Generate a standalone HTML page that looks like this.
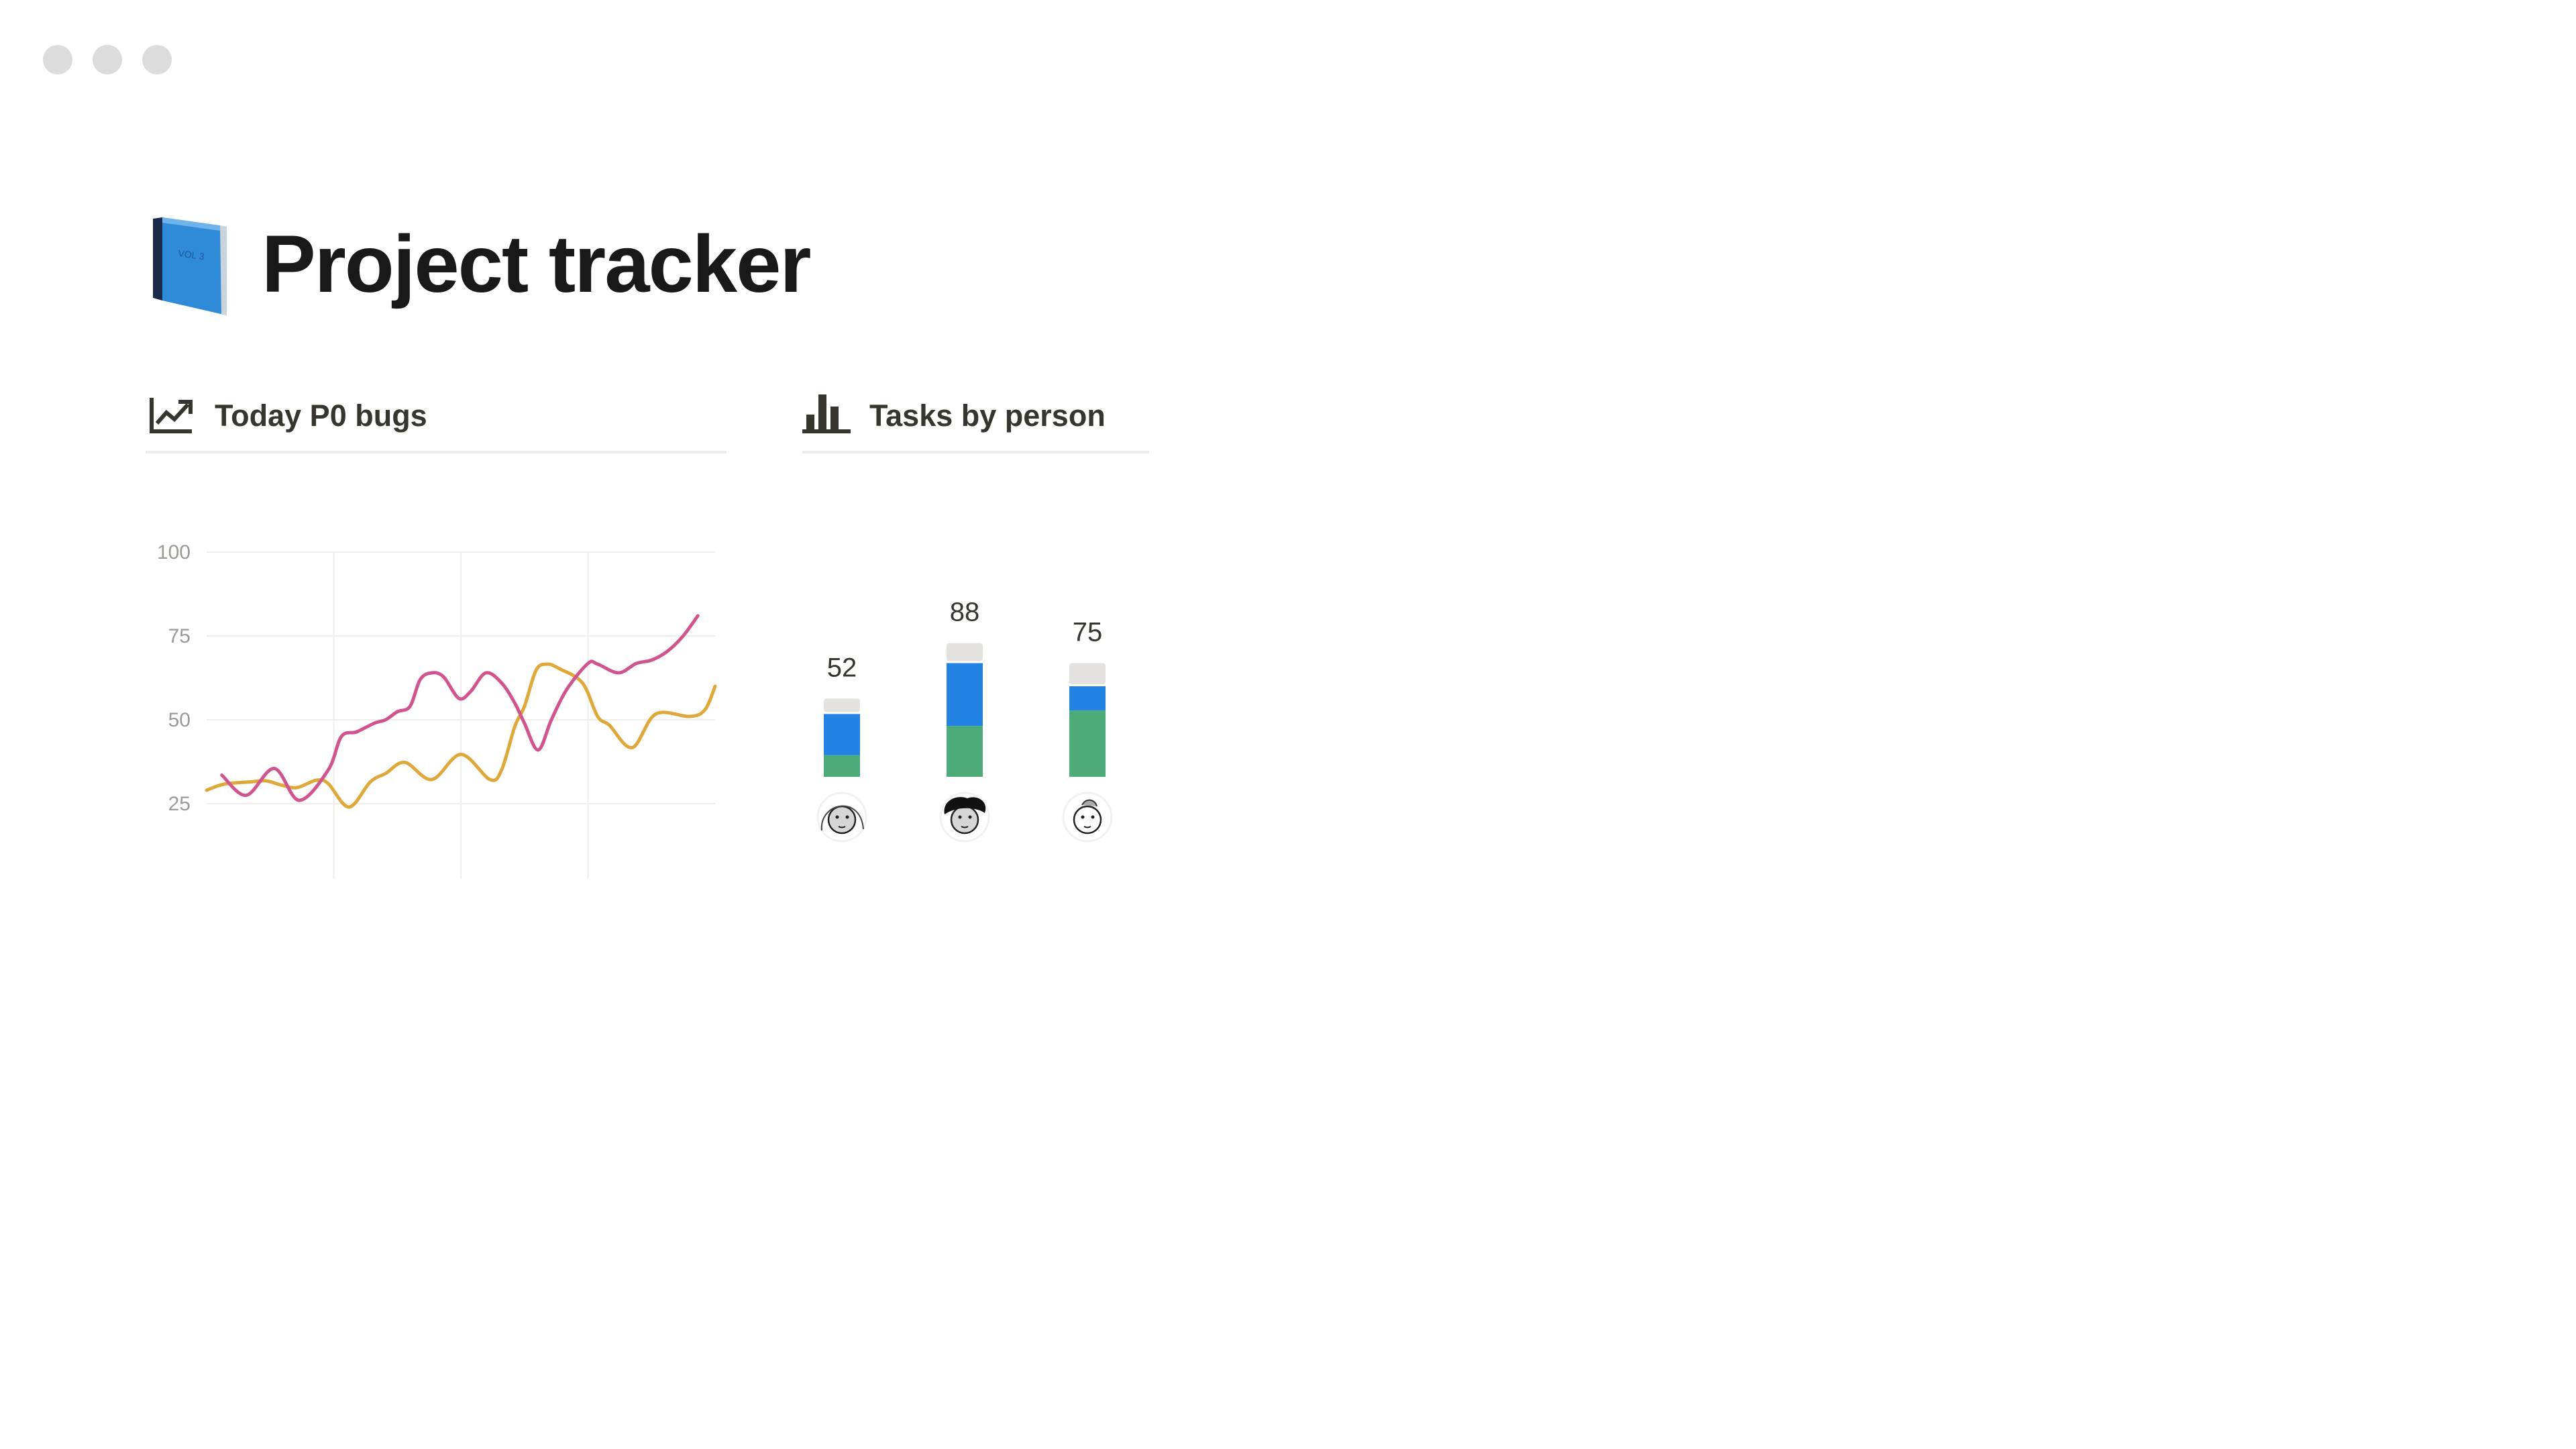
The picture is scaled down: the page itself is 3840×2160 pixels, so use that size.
<!DOCTYPE html>
<html><head><meta charset="utf-8"><style>
html,body{margin:0;padding:0;background:#fff;}
body{width:3840px;height:2160px;position:relative;overflow:hidden;font-family:"Liberation Sans",sans-serif;color:#37352f;}
.dot{position:absolute;top:67px;width:44px;height:44px;border-radius:50%;background:#dcdcdc;}
.abs{position:absolute;}
</style></head><body>
<div class="dot" style="left:64px"></div>
<div class="dot" style="left:138px"></div>
<div class="dot" style="left:212px"></div>

<svg class="abs" style="left:220px;top:320px" width="125" height="152" viewBox="0 0 125 152">
<path d="M8 6 L22 4 L22 128 L8 124 Z" fill="#1a2a4a"/>
<path d="M22 4 L118 18 L118 150 L22 128 Z" fill="#2f8ad8"/>
<path d="M108 16 L118 18 L118 150 L110 148 Z" fill="#c9d3dc"/>
<path d="M22 4 L108 16 L108 24 L22 12 Z" fill="#6fb3ea"/>
<text x="45" y="62" font-size="14" fill="#1d5a9a" font-family="Liberation Sans" transform="rotate(8 45 62)">VOL 3</text>
</svg>
<div class="abs" style="left:390px;top:318px;font-size:121px;font-weight:bold;color:#191919;letter-spacing:-2px;line-height:150px">Project tracker</div>

<svg class="abs" style="left:222px;top:591px" width="66" height="56" viewBox="0 0 66 56">
<path d="M4 2 V52 H64" fill="none" stroke="#37352f" stroke-width="6"/>
<path d="M12 40 L26 24 L38 34 L58 12" fill="none" stroke="#37352f" stroke-width="6"/>
<path d="M44 8 H62 V26" fill="none" stroke="#37352f" stroke-width="6"/>
</svg>
<div class="abs" style="left:320px;top:592px;font-size:45px;font-weight:bold;line-height:56px;color:#37352f">Today P0 bugs</div>
<div class="abs" style="left:217px;top:672px;width:866px;height:4px;background:#ebebea"></div>

<svg class="abs" style="left:1196px;top:586px" width="72" height="62" viewBox="0 0 72 62">
<rect x="6" y="32" width="12" height="24" fill="#37352f"/>
<rect x="24" y="2" width="12" height="54" fill="#37352f"/>
<rect x="42" y="20" width="12" height="36" fill="#37352f"/>
<rect x="0" y="54" width="72" height="6" fill="#37352f"/>
</svg>
<div class="abs" style="left:1296px;top:592px;font-size:45px;font-weight:bold;line-height:56px;color:#37352f">Tasks by person</div>
<div class="abs" style="left:1196px;top:672px;width:517px;height:4px;background:#ebebea"></div>

<svg id="line" class="abs" style="left:0;top:0" width="1150" height="1400"></svg>
<svg id="bars" class="abs" style="left:0;top:0" width="1800" height="1300"></svg>

<script>
const yTicks=[100,75,50,25];
const xGrid=[25,50,75];
const pinkX=[3,7.8,13.3,18.2,23.9,26.5,29.5,33,35.2,37.5,40,42,44.3,46.6,49.6,51.9,54.9,58,60.6,62.5,65.2,67.8,70.8,75,76.9,81,84.5,87.5,90.5,93.6,96.6];
const pinkY=[33.5,27.5,35.5,26,35,45,46.4,49,50,52.4,54,62,64,62.8,56.4,58.4,64,61,55,49,41,50,59,66.8,66.6,64,66.8,67.8,70.3,74.8,81];
const yellowX=[0,3.4,8.7,11.7,14.8,17.8,21.6,23.9,28,32.2,35.2,39,44.3,50,55.7,58,60.6,62.5,64.8,67,69.3,73.9,76.9,79.2,83.7,88.3,95,98,100];
const yellowY=[29,30.8,31.5,31.8,30.5,29.8,32,31,24,31.5,34,37.3,32.2,39.7,32.2,35,48,54,64.8,66.6,65.3,61,51,48.4,41.7,51.7,51,53,60];

const NS='http://www.w3.org/2000/svg';
const L=308,R=1066,B=1310;
const sx=v=>L+(R-L)*v/100;
const sy=v=>1198-(v-25)*(1198-823)/75;
const svg=document.getElementById('line');
function mk(p,tag,attrs){const e=document.createElementNS(NS,tag);for(const k in attrs)e.setAttribute(k,attrs[k]);p.appendChild(e);return e;}
yTicks.forEach(t=>{
  const g=mk(svg,'line',{x1:L,x2:R,y1:sy(t),y2:sy(t),stroke:'#eeeeed','stroke-width':2});
  
  
  const tx=mk(svg,'text',{x:284,y:sy(t)+10,'text-anchor':'end','font-size':30,fill:'#9b9a97','font-family':'Liberation Sans'});
  tx.textContent=t;
  
  
});
xGrid.forEach(v=>{
  const g=mk(svg,'line',{x1:sx(v),x2:sx(v),y1:sy(100),y2:B,stroke:'#eeeeed','stroke-width':2});
  
  
});
function path(xs,ys){
  const p=xs.map((x,i)=>[sx(x),sy(ys[i])]);
  let d='M'+p[0][0]+' '+p[0][1];
  for(let i=0;i<p.length-1;i++){
    const p0=p[i-1]||p[i],p1=p[i],p2=p[i+1],p3=p[i+2]||p2;
    const c1=[p1[0]+(p2[0]-p0[0])/6,p1[1]+(p2[1]-p0[1])/6];
    const c2=[p2[0]-(p3[0]-p1[0])/6,p2[1]-(p3[1]-p1[1])/6];
    d+=` C${c1[0]} ${c1[1]} ${c2[0]} ${c2[1]} ${p2[0]} ${p2[1]}`;
  }
  return d;
}
const ly=mk(svg,'path',{d:path(yellowX,yellowY),fill:'none',stroke:'#dfa83a','stroke-width':5,'stroke-linecap':'round'});


const lp=mk(svg,'path',{d:path(pinkX,pinkY),fill:'none',stroke:'#d0558f','stroke-width':5,'stroke-linecap':'round'});



// bars
const people=['person-1','person-2','person-3'];
const doneVals=[14,33,43];
const progressVals=[28,42,17];
const todoVals=[10,13,15];
const totals=[52,88,75];
const bs=document.getElementById('bars');
const base=1158, unit=2.3, bw=54;
const cx=i=>1255+i*183;
const hy=v=>v*unit;
people.forEach((p,i)=>{
  let y=base;
  [[doneVals[i],'#4dab7a'],[progressVals[i],'#2383e2'],[todoVals[i],'#e3e2e0']].forEach((s,j)=>{
    const h=hy(s[0]);
    const r=mk(bs,'rect',{x:cx(i)-bw/2,y:y-h+(j>0?3:0),width:bw,height:h-(j>0?3:0),fill:s[1],rx:j==2?4:0});
    
    
    y-=h;
  });
  const t=mk(bs,'text',{x:cx(i),y:y-30,'text-anchor':'middle','font-size':40,fill:'#37352f','font-family':'Liberation Sans'});
  t.textContent=totals[i];
  
  
  const g=mk(bs,'g',{transform:`translate(${cx(i)},1218)`});
  
  
  mk(g,'circle',{r:36,fill:'#fff',stroke:'#f1f1f0','stroke-width':3});
  mk(g,'circle',{cy:4,r:20,fill:i==2?'#fff':'#d6d6d6',stroke:'#222','stroke-width':2.5});
  if(i==1) mk(g,'path',{d:'M-30 -4 C-34 -26 -10 -34 4 -28 C20 -34 36 -22 30 -6 C20 -14 -10 -18 -30 -4 Z',fill:'#111'});
  if(i==0) mk(g,'path',{d:'M-30 20 C-34 -22 28 -34 32 18',fill:'none',stroke:'#444','stroke-width':2});
  if(i==2) mk(g,'path',{d:'M-8 -18 C-2 -30 12 -26 14 -16',fill:'#aaa',stroke:'#333','stroke-width':2});
  mk(g,'circle',{cx:-7,cy:0,r:2.5,fill:'#222'});
  mk(g,'circle',{cx:8,cy:0,r:2.5,fill:'#222'});
  mk(g,'path',{d:'M-5 14 Q0 17 5 14',fill:'none',stroke:'#222','stroke-width':2});
});
</script>
</body></html>
